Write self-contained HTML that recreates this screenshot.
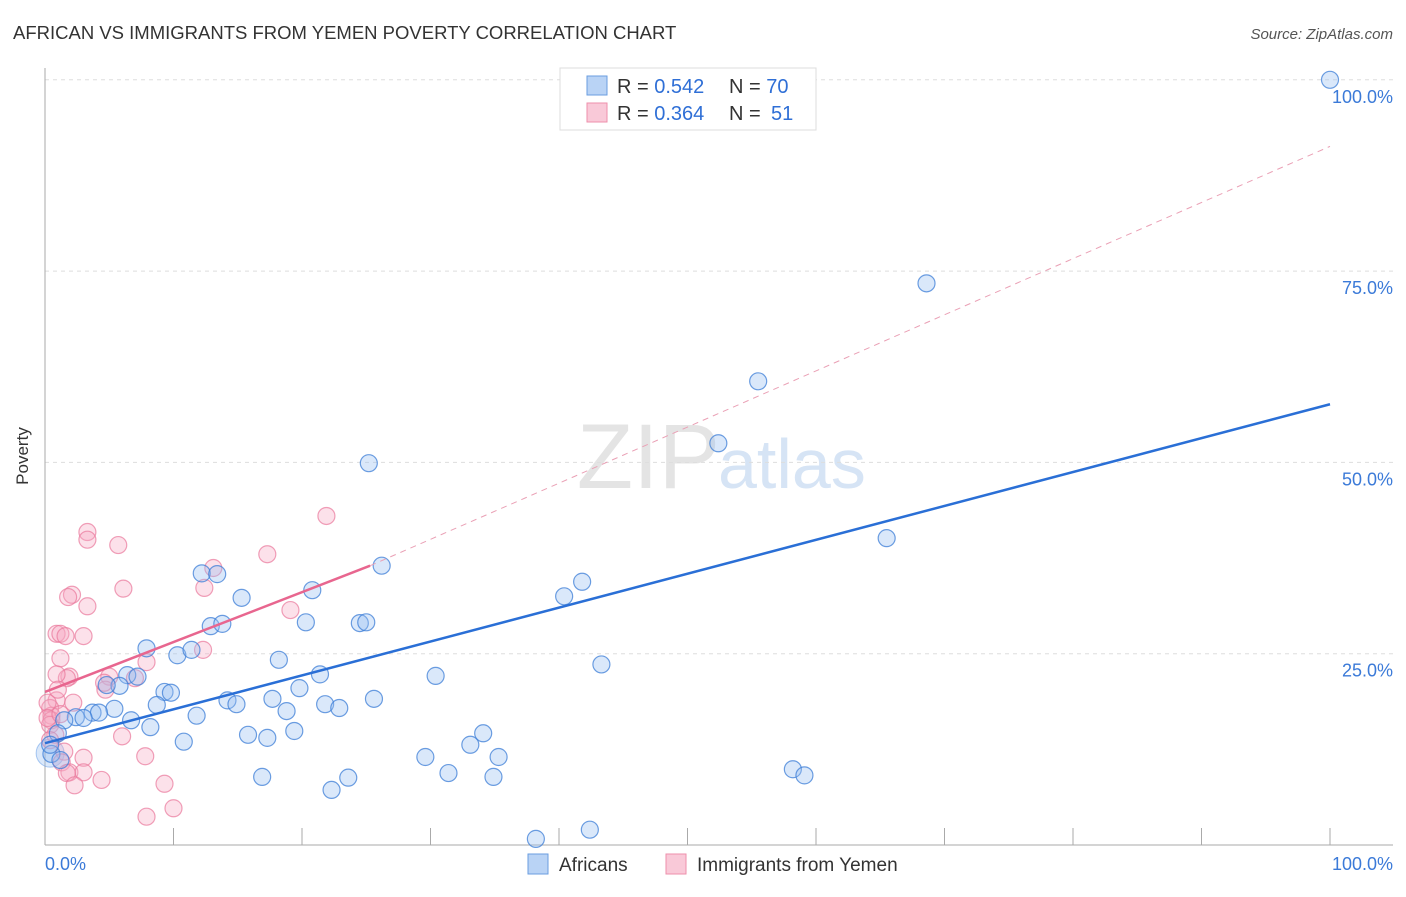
<!DOCTYPE html>
<html><head><meta charset="utf-8"><style>
body{margin:0;background:#fff;font-family:"Liberation Sans",sans-serif}
svg text{font-family:"Liberation Sans",sans-serif}
</style></head><body>
<svg id="c" width="1406" height="892">
<text x="13" y="39" font-size="18.5" fill="#333">AFRICAN VS IMMIGRANTS FROM YEMEN POVERTY CORRELATION CHART</text>
<text x="1393" y="39" font-size="15" fill="#555" font-style="italic" text-anchor="end">Source: ZipAtlas.com</text>
<text x="28" y="456" font-size="17" fill="#333" transform="rotate(-90 28 456)" text-anchor="middle">Poverty</text>
<text x="720" y="488" font-size="92" fill="#e4e4e4" text-anchor="end" font-family="Liberation Serif">ZIP</text>
<text x="718" y="488" font-size="70" fill="#d6e4f5">atlas</text>
<g id="grid"></g><g id="pts"></g><g id="lines"></g>
<g>
<rect x="560" y="68" width="256" height="62" fill="#fff" stroke="#ddd"/>
<rect x="587" y="76" width="20" height="19" fill="#b9d3f5" stroke="#6a9ee0"/>
<rect x="587" y="103" width="20" height="19" fill="#f9c9d8" stroke="#ee8fab"/>
<text x="617" y="93" font-size="20" fill="#333">R = <tspan fill="#2f6fd6">0.542</tspan></text>
<text x="729" y="93" font-size="20" fill="#333">N = <tspan fill="#2f6fd6">70</tspan></text>
<text x="617" y="120" font-size="20" fill="#333">R = <tspan fill="#2f6fd6">0.364</tspan></text>
<text x="729" y="120" font-size="20" fill="#333">N = </text>
<text x="771" y="120" font-size="20" fill="#2f6fd6">51</text>
</g>
<g>
<rect x="528" y="854" width="20" height="20" fill="#b9d3f5" stroke="#6a9ee0"/>
<text x="559" y="871" font-size="19" fill="#333">Africans</text>
<rect x="666" y="854" width="20" height="20" fill="#f9c9d8" stroke="#ee8fab"/>
<text x="697" y="871" font-size="19" fill="#333">Immigrants from Yemen</text>
</g>
</svg>
<script>
const yTicks=[25,50,75,100];
const yTickLabels=["25.0%","50.0%","75.0%","100.0%"];
const blueX=[100,68.6,55.5,52.4,25.2,65.5,26.2,41.8,40.4,43.3,30.4,12.2,13.4,15.3,20.8,20.3,12.9,13.8,24.5,25.0,7.9,10.3,11.4,18.2,21.4,6.4,7.2,5.8,4.8,19.8,9.3,9.8,14.2,14.9,17.7,25.6,8.7,21.8,22.9,5.4,3.7,4.2,18.8,11.8,2.4,3.0,1.5,6.7,8.2,15.8,19.4,17.3,10.8,34.1,33.1,35.3,29.6,31.4,34.9,16.9,23.6,22.3,58.2,59.1,38.2,42.4,1.0,0.5,0.4,1.2];
const blueY=[100,73.4,60.6,52.5,49.9,40.1,36.5,34.4,32.5,23.6,22.1,35.5,35.4,32.3,33.3,29.1,28.6,28.9,29.0,29.1,25.7,24.8,25.5,24.2,22.3,22.2,22.0,20.8,20.9,20.5,20.0,19.9,18.9,18.4,19.1,19.1,18.3,18.4,17.9,17.8,17.3,17.3,17.5,16.9,16.7,16.6,16.3,16.3,15.4,14.4,14.9,14.0,13.5,14.6,13.1,11.5,11.5,9.4,8.9,8.9,8.8,7.2,9.9,9.1,0.8,2.0,14.6,11.9,13.1,11.1];
const pinkX=[3.3,3.3,5.7,21.9,17.3,13.1,12.4,6.1,2.1,1.8,3.3,19.1,0.9,1.2,1.6,3.0,12.3,7.9,1.2,5.0,7.0,1.9,1.7,0.9,4.7,0.9,2.2,0.4,0.5,0.5,0.4,0.8,1.5,1.3,3.0,1.9,3.0,1.7,2.3,4.4,6.0,7.8,9.3,10.0,7.9,0.2,0.2,0.4,4.6,1.2,1.0];
const pinkY=[40.9,39.9,39.2,43.0,38.0,36.2,33.6,33.5,32.7,32.4,31.2,30.7,27.6,27.6,27.3,27.3,25.5,23.9,24.4,22.0,21.8,22.0,21.8,22.3,20.3,18.9,18.6,17.9,16.9,16.3,15.7,14.4,12.2,10.8,11.4,9.5,9.5,9.4,7.8,8.5,14.2,11.6,8.0,4.8,3.7,18.6,16.6,13.7,21.2,17.1,20.3];
const blueTrend=[13.3,57.6];
const pinkTrend=[20.0,36.5,25.3];
const pinkDashEnd=91.3;
const NS="http://www.w3.org/2000/svg";
const X=v=>45+v*12.85, Y=v=>845-v*7.652;
function mk(t,a,p){const e=document.createElementNS(NS,t);for(const k in a)e.setAttribute(k,a[k]);p.appendChild(e);return e;}
const g=document.getElementById('grid');
yTicks.forEach((t,i)=>{
 const l=mk('line',{x1:45,x2:1393,y1:Y(t),y2:Y(t),stroke:'#ddd','stroke-dasharray':'4,4'},g);
 
 
 const tx=mk('text',{x:1393,y:Y(t)+23,'font-size':18,fill:'#3b7ad8','text-anchor':'end'},g);tx.textContent=yTickLabels[i];
 
 
});
const ax=mk('line',{x1:45,x2:45,y1:68,y2:845,stroke:'#aaa'},g);


const bx=mk('line',{x1:45,x2:1393,y1:845,y2:845,stroke:'#aaa'},g);


for(let i=1;i<=10;i++){const t=mk('line',{x1:X(i*10),x2:X(i*10),y1:828,y2:845,stroke:'#aaa'},g);
 
 }
[[0,'0.0%','start',45],[100,'100.0%','end',1393]].forEach(a=>{const t=mk('text',{x:a[3],y:870,'font-size':18,fill:'#3b7ad8','text-anchor':a[2]},g);t.textContent=a[1];
 
 });
const p=document.getElementById('pts');
const big=mk('circle',{cx:X(0.4),cy:Y(12),r:14,fill:'rgba(150,190,240,0.35)',stroke:'rgba(90,150,230,0.5)'},p);


pinkX.forEach((x,i)=>{const c=mk('circle',{cx:X(x),cy:Y(pinkY[i]),r:8.5,fill:'rgba(246,170,195,0.35)',stroke:'rgba(234,120,155,0.7)','stroke-width':1.2},p);
 
 });
blueX.forEach((x,i)=>{const c=mk('circle',{cx:X(x),cy:Y(blueY[i]),r:8.5,fill:'rgba(150,190,240,0.35)',stroke:'rgba(60,125,215,0.75)','stroke-width':1.2},p);
 
 });
const L=document.getElementById('lines');
const d=mk('line',{x1:X(pinkTrend[2]),y1:Y(pinkTrend[1]),x2:X(100),y2:Y(pinkDashEnd),stroke:'#eaa0b5','stroke-dasharray':'6,5','stroke-width':1},L);


const pl=mk('line',{x1:X(0),y1:Y(pinkTrend[0]),x2:X(pinkTrend[2]),y2:Y(pinkTrend[1]),stroke:'#e8668f','stroke-width':2.5},L);


const bl=mk('line',{x1:X(0),y1:Y(blueTrend[0]),x2:X(100),y2:Y(blueTrend[1]),stroke:'#2a6fd6','stroke-width':2.5},L);


</script>
</body></html>
